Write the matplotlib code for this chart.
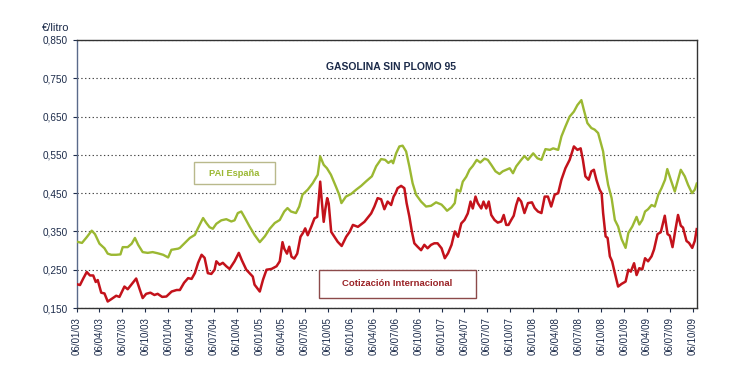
import matplotlib

matplotlib.use("Agg")
import matplotlib.pyplot as plt
import matplotlib.dates as mdates
from matplotlib.patches import Rectangle
import pandas as pd

plt.rcParams["font.family"] = ["Liberation Sans", "DejaVu Sans"]

# PAI España (green)
pai_dates = [
    "2003-01-06", "2003-01-26", "2003-02-14", "2003-03-06", "2003-03-19", "2003-04-06",
    "2003-04-26", "2003-05-09", "2003-05-23", "2003-06-12", "2003-06-29", "2003-07-08",
    "2003-07-28", "2003-08-13", "2003-08-26", "2003-09-08", "2003-09-26", "2003-10-16",
    "2003-11-05", "2003-11-25", "2003-12-17", "2004-01-06", "2004-01-19", "2004-02-15",
    "2004-02-22", "2004-03-13", "2004-04-02", "2004-04-22", "2004-05-05", "2004-05-25",
    "2004-06-07", "2004-06-20", "2004-07-03", "2004-07-17", "2004-08-06", "2004-08-26",
    "2004-09-15", "2004-09-28", "2004-10-11", "2004-10-25", "2004-11-07", "2004-11-27",
    "2004-12-17", "2005-01-07", "2005-01-27", "2005-02-16", "2005-03-08", "2005-03-28",
    "2005-04-15", "2005-04-28", "2005-05-12", "2005-06-01", "2005-06-14", "2005-06-27",
    "2005-07-18", "2005-08-07", "2005-08-27", "2005-09-06", "2005-09-20", "2005-10-03",
    "2005-10-19", "2005-11-08", "2005-11-21", "2005-11-30", "2005-12-18", "2006-01-08",
    "2006-01-28", "2006-02-17", "2006-03-09", "2006-04-01", "2006-04-18", "2006-05-08",
    "2006-05-24", "2006-06-06", "2006-06-19", "2006-06-25", "2006-07-07", "2006-07-20",
    "2006-08-02", "2006-08-16", "2006-08-29", "2006-09-11", "2006-09-25", "2006-10-15",
    "2006-11-04", "2006-11-24", "2006-12-14", "2007-01-05", "2007-01-18", "2007-01-27",
    "2007-02-14", "2007-02-27", "2007-03-07", "2007-03-21", "2007-03-31", "2007-04-14",
    "2007-04-27", "2007-05-10", "2007-05-26", "2007-06-09", "2007-06-26", "2007-07-09",
    "2007-07-23", "2007-08-09", "2007-08-25", "2007-09-07", "2007-09-21", "2007-10-05",
    "2007-10-18", "2007-10-31", "2007-11-20", "2007-12-03", "2007-12-17", "2008-01-07",
    "2008-01-24", "2008-02-09", "2008-02-25", "2008-03-14", "2008-03-27", "2008-04-16",
    "2008-04-29", "2008-05-15", "2008-06-01", "2008-06-18", "2008-07-02", "2008-07-18",
    "2008-07-28", "2008-08-11", "2008-08-27", "2008-09-09", "2008-09-23", "2008-10-04",
    "2008-10-13", "2008-10-23", "2008-11-02", "2008-11-16", "2008-11-29", "2008-12-12",
    "2008-12-26", "2009-01-11", "2009-01-22", "2009-02-07", "2009-02-24", "2009-03-07",
    "2009-03-19", "2009-03-30", "2009-04-11", "2009-04-25", "2009-05-08", "2009-05-22",
    "2009-06-04", "2009-06-18", "2009-06-27", "2009-07-11", "2009-07-27", "2009-08-09",
    "2009-08-20", "2009-09-05", "2009-09-18", "2009-10-04", "2009-10-15", "2009-10-23",
]
pai_values = [
    0.323, 0.320, 0.335, 0.352, 0.343, 0.318,
    0.306, 0.292, 0.289, 0.289, 0.290, 0.309,
    0.309, 0.318, 0.333, 0.315, 0.296, 0.294,
    0.296, 0.293, 0.289, 0.282, 0.302, 0.305,
    0.307, 0.320, 0.333, 0.341, 0.359, 0.385,
    0.372, 0.361, 0.357, 0.370, 0.379, 0.382,
    0.376, 0.379, 0.398, 0.402, 0.387, 0.363,
    0.341, 0.322, 0.337, 0.357, 0.372, 0.380,
    0.402, 0.411, 0.402, 0.398, 0.415, 0.446,
    0.459, 0.476, 0.498, 0.546, 0.524, 0.515,
    0.498, 0.467, 0.446, 0.424, 0.441, 0.448,
    0.459, 0.469, 0.481, 0.494, 0.520, 0.539,
    0.537, 0.529, 0.535, 0.528, 0.554, 0.572,
    0.574, 0.559, 0.520, 0.476, 0.446, 0.428,
    0.415, 0.417, 0.426, 0.420, 0.411, 0.404,
    0.413, 0.424, 0.459, 0.454, 0.480, 0.493,
    0.511, 0.521, 0.537, 0.530, 0.540, 0.537,
    0.524, 0.507, 0.500, 0.507, 0.511, 0.515,
    0.502, 0.520, 0.537, 0.547, 0.537, 0.554,
    0.541, 0.537, 0.565, 0.563, 0.567, 0.563,
    0.598, 0.624, 0.650, 0.663, 0.680, 0.693,
    0.667, 0.633, 0.620, 0.616, 0.607, 0.580,
    0.559, 0.511, 0.472, 0.437, 0.380, 0.363,
    0.330, 0.307, 0.346, 0.363, 0.388, 0.368,
    0.380, 0.402, 0.408, 0.419, 0.415, 0.446,
    0.463, 0.485, 0.513, 0.485, 0.454, 0.485,
    0.511, 0.494, 0.472, 0.450, 0.459, 0.475,
]

# Cotización Internacional (red)
cot_dates = [
    "2003-01-06", "2003-01-18", "2003-01-31", "2003-02-14", "2003-02-27", "2003-03-12",
    "2003-03-22", "2003-03-30", "2003-04-13", "2003-04-26", "2003-05-09", "2003-05-23",
    "2003-06-12", "2003-06-25", "2003-07-15", "2003-07-28", "2003-08-13", "2003-08-31",
    "2003-09-13", "2003-09-26", "2003-10-10", "2003-10-27", "2003-11-12", "2003-11-25",
    "2003-12-13", "2003-12-30", "2004-01-20", "2004-02-09", "2004-02-22", "2004-03-10",
    "2004-03-26", "2004-04-09", "2004-04-22", "2004-05-05", "2004-05-19", "2004-05-31",
    "2004-06-13", "2004-06-27", "2004-07-10", "2004-07-17", "2004-07-30", "2004-08-12",
    "2004-08-26", "2004-09-08", "2004-09-28", "2004-10-15", "2004-10-27", "2004-11-14",
    "2004-11-27", "2004-12-10", "2004-12-17", "2005-01-07", "2005-01-20", "2005-02-03",
    "2005-02-23", "2005-03-15", "2005-03-28", "2005-04-08", "2005-04-15", "2005-04-26",
    "2005-05-05", "2005-05-14", "2005-05-25", "2005-06-06", "2005-06-19", "2005-06-28",
    "2005-07-08", "2005-07-18", "2005-08-01", "2005-08-14", "2005-08-25", "2005-08-31",
    "2005-09-06", "2005-09-12", "2005-09-20", "2005-09-27", "2005-10-04", "2005-10-10",
    "2005-10-20", "2005-11-02", "2005-11-15", "2005-12-01", "2005-12-19", "2006-01-02",
    "2006-01-15", "2006-02-04", "2006-03-02", "2006-03-29", "2006-04-11", "2006-04-24",
    "2006-05-08", "2006-05-21", "2006-06-03", "2006-06-17", "2006-06-27", "2006-07-05",
    "2006-07-13", "2006-07-27", "2006-08-09", "2006-08-18", "2006-08-29", "2006-09-08",
    "2006-09-18", "2006-10-01", "2006-10-15", "2006-10-28", "2006-11-10", "2006-11-24",
    "2006-12-07", "2006-12-20", "2007-01-05", "2007-01-18", "2007-01-31", "2007-02-14",
    "2007-02-27", "2007-03-12", "2007-03-25", "2007-04-07", "2007-04-20", "2007-05-01",
    "2007-05-10", "2007-05-21", "2007-05-30", "2007-06-13", "2007-06-22", "2007-07-03",
    "2007-07-13", "2007-07-23", "2007-08-05", "2007-08-18", "2007-09-01", "2007-09-11",
    "2007-09-21", "2007-09-30", "2007-10-11", "2007-10-21", "2007-10-31", "2007-11-09",
    "2007-11-20", "2007-12-03", "2007-12-17", "2008-01-02", "2008-01-13", "2008-01-26",
    "2008-02-09", "2008-02-22", "2008-03-06", "2008-03-19", "2008-04-02", "2008-04-16",
    "2008-04-29", "2008-05-15", "2008-06-01", "2008-06-18", "2008-07-02", "2008-07-15",
    "2008-07-24", "2008-08-03", "2008-08-16", "2008-08-27", "2008-09-06", "2008-09-16",
    "2008-09-29", "2008-10-07", "2008-10-13", "2008-10-23", "2008-10-31", "2008-11-09",
    "2008-11-18", "2008-11-29", "2008-12-12", "2008-12-26", "2009-01-11", "2009-01-22",
    "2009-02-01", "2009-02-14", "2009-02-24", "2009-03-07", "2009-03-19", "2009-03-30",
    "2009-04-11", "2009-04-25", "2009-05-05", "2009-05-19", "2009-06-01", "2009-06-17",
    "2009-06-28", "2009-07-07", "2009-07-18", "2009-07-30", "2009-08-09", "2009-08-20",
    "2009-08-29", "2009-09-12", "2009-09-22", "2009-10-05", "2009-10-15", "2009-10-23",
]
cot_values = [
    0.212, 0.210, 0.227, 0.244, 0.235, 0.235,
    0.218, 0.223, 0.190, 0.188, 0.167, 0.173,
    0.182, 0.179, 0.206, 0.199, 0.212, 0.227,
    0.201, 0.176, 0.187, 0.190, 0.184, 0.187,
    0.179, 0.180, 0.193, 0.197, 0.197, 0.216,
    0.228, 0.226, 0.241, 0.268, 0.289, 0.281,
    0.241, 0.239, 0.250, 0.272, 0.263, 0.268,
    0.259, 0.252, 0.272, 0.294, 0.275, 0.250,
    0.241, 0.232, 0.211, 0.193, 0.224, 0.250,
    0.252, 0.259, 0.272, 0.322, 0.305, 0.292,
    0.310, 0.284, 0.279, 0.292, 0.336, 0.345,
    0.358, 0.340, 0.362, 0.384, 0.388, 0.432,
    0.480, 0.432, 0.375, 0.410, 0.437, 0.423,
    0.349, 0.336, 0.323, 0.312, 0.336, 0.349,
    0.367, 0.362, 0.375, 0.397, 0.415, 0.437,
    0.434, 0.408, 0.428, 0.419, 0.441, 0.450,
    0.463, 0.469, 0.463, 0.424, 0.389, 0.350,
    0.319, 0.310, 0.301, 0.315, 0.306, 0.315,
    0.319, 0.319, 0.306, 0.280, 0.293, 0.315,
    0.350, 0.336, 0.371, 0.380, 0.397, 0.428,
    0.410, 0.441, 0.424, 0.410, 0.428, 0.410,
    0.428, 0.393, 0.380, 0.373, 0.376, 0.393,
    0.367, 0.367, 0.380, 0.391, 0.419, 0.437,
    0.428, 0.398, 0.424, 0.426, 0.411, 0.402,
    0.398, 0.441, 0.441, 0.415, 0.446, 0.450,
    0.485, 0.515, 0.537, 0.572, 0.563, 0.567,
    0.537, 0.494, 0.485, 0.507, 0.511, 0.485,
    0.459, 0.450, 0.398, 0.337, 0.333, 0.285,
    0.272, 0.241, 0.206, 0.213, 0.219, 0.250,
    0.245, 0.267, 0.236, 0.254, 0.251, 0.280,
    0.272, 0.285, 0.303, 0.343, 0.348, 0.391,
    0.343, 0.339, 0.309, 0.356, 0.393, 0.365,
    0.360, 0.325, 0.320, 0.307, 0.325, 0.356,
]

y_ticks = [0.150, 0.250, 0.350, 0.450, 0.550, 0.650, 0.750, 0.850]
# quarterly ticks on the 6th: 06/01/03 ... 06/10/09
x_ticks = pd.date_range("2003-01-01", "2009-10-01", freq="3MS") + pd.Timedelta(days=5)

TXT = "#1c2b4a"
GREEN = "#9bb832"
RED = "#c3121b"

W, H = 748, 380
fig = plt.figure(figsize=(W / 100, H / 100), dpi=100)
ax = fig.add_axes([77 / W, 1 - 308 / H, 620 / W, 268 / H])

ax.plot(pd.to_datetime(pai_dates), pai_values, color=GREEN, lw=1.7, zorder=3)
ax.plot(pd.to_datetime(cot_dates), cot_values, color=RED, lw=1.8, zorder=4)

ax.set_ylim(0.150, 0.850)
ax.set_yticks(y_ticks)
ax.set_yticklabels([f"{v:.3f}".replace(".", ",") for v in y_ticks])
ax.set_xlim(pd.Timestamp("2003-01-06"), pd.Timestamp("2009-10-24"))
ax.set_xticks(x_ticks)
ax.xaxis.set_major_formatter(mdates.DateFormatter("%d/%m/%y"))
ax.tick_params(axis="x", rotation=90, labelsize=7, colors=TXT, length=3, width=0.8)
ax.tick_params(axis="y", labelsize=7.2, colors=TXT, length=3, width=0.8)

ax.yaxis.grid(True, ls=(0, (1.2, 2.2)), color="#444444", lw=0.8)
ax.set_axisbelow(True)
for side in ("top", "right", "bottom"):
    ax.spines[side].set_color("#333333")
    ax.spines[side].set_linewidth(1.0)
ax.spines["left"].set_color("#5a6a8a")
ax.spines["left"].set_linewidth(1.0)

fig.text(42 / W, 1 - 28 / H, "€/litro", fontsize=8, color=TXT, va="center")
fig.text(391 / W, 1 - 67 / H, "GASOLINA SIN PLOMO 95",
         fontsize=7.5, fontweight="bold", color=TXT, ha="center", va="center")

# label boxes (pixel placement)
fig.patches.append(Rectangle((194 / W, 1 - 184 / H), 81 / W, 22 / H, transform=fig.transFigure,
                             fc="white", ec="#b9b98c", lw=1.0, zorder=5))
fig.text(234.5 / W, 1 - 173 / H, "PAI España", fontsize=6.7, fontweight="bold",
         color=GREEN, ha="center", va="center", zorder=6)
fig.patches.append(Rectangle((319 / W, 1 - 298 / H), 157 / W, 28 / H, transform=fig.transFigure,
                             fc="white", ec="#8c4a4a", lw=1.0, zorder=5))
fig.text(397.5 / W, 1 - 284 / H, "Cotización Internacional", fontsize=6.8, fontweight="bold",
         color="#9a2226", ha="center", va="center", zorder=6)

fig.savefig("out.png", dpi=100)
